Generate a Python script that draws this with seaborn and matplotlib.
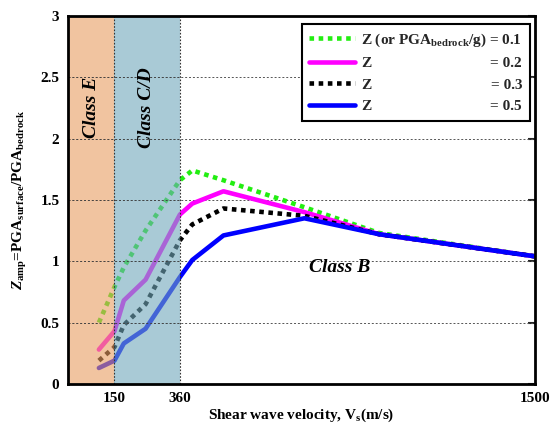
import numpy as np
import pandas as pd
import matplotlib
matplotlib.use("Agg")
import matplotlib.pyplot as plt
import seaborn as sns

# ==============================================================
# DATA
# ==============================================================
VS = [100, 150, 180, 250, 360, 400, 500, 760, 1000, 1500]

Z_01 = [0.50, 0.79, 0.95, 1.25, 1.66, 1.74, 1.66, 1.44, 1.23, 1.04]
Z_02 = [0.28, 0.43, 0.68, 0.85, 1.38, 1.47, 1.57, 1.40, 1.22, 1.04]
Z_03 = [0.19, 0.30, 0.48, 0.65, 1.17, 1.30, 1.43, 1.37, 1.22, 1.04]
Z_05 = [0.13, 0.19, 0.33, 0.45, 0.87, 1.01, 1.21, 1.35, 1.22, 1.04]

CLASS_E = (0, 150)
CLASS_CD = (150, 360)
X_TICKS = [150, 360, 1500]
Y_TICKS = [0, 0.5, 1, 1.5, 2, 2.5, 3]

# ==============================================================
# STYLE
# ==============================================================
sns.set_style("white")
plt.rcParams["font.family"] = ["Liberation Serif", "DejaVu Serif"]
plt.rcParams["font.weight"] = "bold"
plt.rcParams["mathtext.fontset"] = "custom"
plt.rcParams["mathtext.rm"] = "Liberation Serif:bold"
plt.rcParams["mathtext.it"] = "Liberation Serif:italic:bold"
plt.rcParams["mathtext.bf"] = "Liberation Serif:bold"

df = pd.DataFrame({"vs": VS, "0.1": Z_01, "0.2": Z_02, "0.3": Z_03, "0.5": Z_05})

fig = plt.figure(figsize=(5.6, 4.28), dpi=100)
ax = fig.add_axes([0.121, 0.103, 0.834, 0.860])

dot = (0, (1, 1))
series = [
    ("0.1", "#22ee11", dot, r"Z (or PGA$_{\mathrm{bedrock}}$/g) = 0.1"),
    ("0.2", "#ff00ff", "-", "Z"),
    ("0.3", "black", dot, "Z"),
    ("0.5", "#0000ff", "-", "Z"),
]
for col, color, ls, lab in series:
    sns.lineplot(data=df, x="vs", y=col, ax=ax, color=color, linewidth=3.3,
                 linestyle=ls, label=lab, zorder=2)
    ax.lines[-1].set_dash_capstyle("butt")

# site class shading, drawn over the lines like the original
ax.axvspan(*CLASS_E, color="#e99d61", alpha=0.6, lw=0, zorder=3)
ax.axvspan(*CLASS_CD, color="#70a8bb", alpha=0.6, lw=0, zorder=3)
for xv in [CLASS_E[1], CLASS_CD[1]]:
    ax.axvline(xv, color="#333333", lw=0.8, ls=(0, (1.5, 1.5)), zorder=4)
for yv in Y_TICKS[1:-1]:
    ax.axhline(yv, color="#555555", lw=0.7, ls=(0, (2, 2)), zorder=1.5)
    ax.plot([CLASS_E[0], CLASS_CD[1]], [yv, yv], color="#444444", lw=0.7,
            ls=(0, (2, 2)), zorder=4)

ax.text(77, 2.25, "Class E", rotation=90, fontsize=14, fontweight="bold",
        style="italic", ha="center", va="center", color="black", zorder=5)
ax.text(254, 2.25, "Class C/D", rotation=90, fontsize=14, fontweight="bold",
        style="italic", ha="center", va="center", color="black", zorder=5)
ax.text(874, 0.95, "Class B", fontsize=14, fontweight="bold",
        style="italic", ha="center", va="center", color="black", zorder=5)

ax.set_xlim(0, 1500)
ax.set_ylim(0, 3)
ax.set_xticks(X_TICKS)
ax.set_xticklabels([str(v) for v in X_TICKS])
ax.set_yticks(Y_TICKS)
ax.set_yticklabels(["0", "0.5", "1", "1.5", "2", "2.5", "3"])
ax.tick_params(axis="both", labelsize=11, direction="in", labelcolor="black")
ax.tick_params(axis="x", length=0, pad=6)
ax.tick_params(axis="y", length=5, width=1.5, right=True, left=False, pad=6)
for sp in ax.spines.values():
    sp.set_linewidth(2)
    sp.set_color("black")
    sp.set_zorder(6)

ax.set_xlabel(r"Shear wave velocity, V$_{\mathrm{s}}$(m/s)", fontsize=11,
              fontweight="bold", labelpad=1, color="black")
ax.set_ylabel(r"$Z_{\mathrm{amp}}$=PGA$_{\mathrm{surface}}$/PGA$_{\mathrm{bedrock}}$",
              fontsize=11, fontweight="bold", labelpad=8, color="black")

leg = ax.legend(loc="upper right", bbox_to_anchor=(0.989, 0.978), fontsize=11,
                frameon=True, fancybox=False, edgecolor="black", framealpha=1,
                handlelength=3.0, handletextpad=0.4, borderpad=0.5,
                labelspacing=0.5, borderaxespad=0)
leg.get_frame().set_linewidth(1.5)
leg.set_zorder(7)

# right-aligned "= 0.x" values inside the legend
fig.canvas.draw()
texts = leg.get_texts()
ref = texts[0].get_window_extent()
inv = fig.transFigure.inverted()
for t, (col, *_rest) in zip(texts[1:], series[1:]):
    bb = t.get_window_extent()
    xf, yf = inv.transform((ref.x1, (bb.y0 + bb.y1) / 2))
    fig.text(xf, yf, f"= {col}", fontsize=11, fontweight="bold",
             ha="right", va="center", zorder=8)

fig.savefig("out.png", dpi=100)
